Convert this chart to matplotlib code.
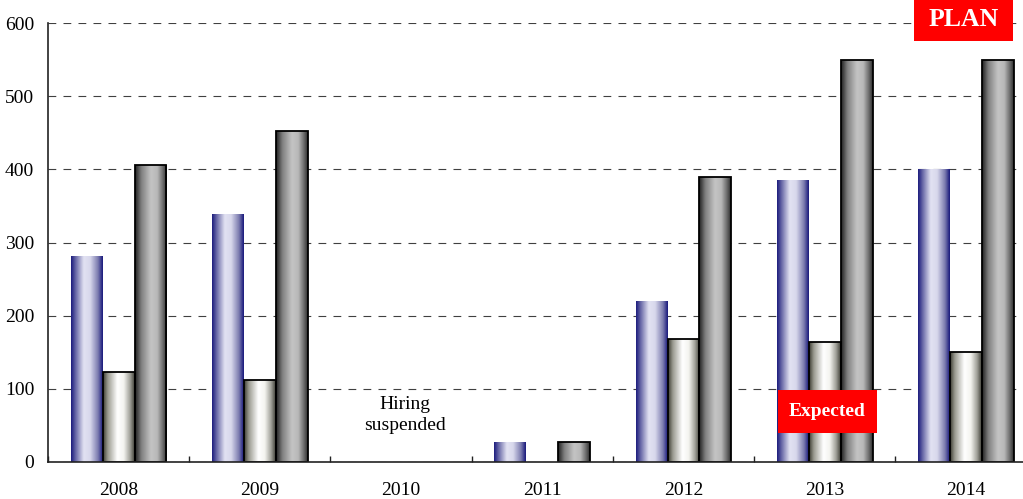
import numpy as np
import matplotlib
matplotlib.use("Agg")
import matplotlib.pyplot as plt
from matplotlib.colors import LinearSegmentedColormap
from matplotlib.patches import Rectangle

# ---- data ----
years = ["2008", "2009", "2010", "2011", "2012", "2013", "2014"]
series_a = [282, 339, 0, 27, 220, 385, 400]   # blue bars
series_b = [123, 112, 0, 0, 168, 164, 150]    # white bars
series_c = [406, 452, 0, 27, 390, 550, 550]   # gray bars
yticks = [0, 100, 200, 300, 400, 500, 600]

plt.rcParams['font.family'] = ['Liberation Serif', 'DejaVu Serif']

fig = plt.figure(figsize=(10.23, 4.99), dpi=100)
ax = fig.add_axes([48 / 1023, 37 / 499, 988.6 / 1023, 439 / 499])

cmap_a = LinearSegmentedColormap.from_list("a", [
    (0.0, '#1a1a7c'), (0.15, '#6a6aa8'), (0.4, '#e2e2f2'),
    (0.6, '#d8d8ec'), (0.85, '#7a7aae'), (1.0, '#16167a')])
cmap_b = LinearSegmentedColormap.from_list("b", [
    (0.0, '#3a3a30'), (0.15, '#9a9a90'), (0.45, '#ffffff'),
    (0.65, '#f4f4f0'), (0.85, '#a0a098'), (1.0, '#3c3c34')])
cmap_c = LinearSegmentedColormap.from_list("c", [
    (0.0, '#1e1e1e'), (0.2, '#808080'), (0.5, '#c4c4c4'),
    (0.7, '#b8b8b8'), (0.9, '#606060'), (1.0, '#2a2a2a')])

x = np.arange(len(years))
w = 0.226
grad = np.linspace(0, 1, 256).reshape(1, -1)

def draw(values, offset, cmap, edge):
    vals = np.array(values, dtype=float)
    keep = vals > 0
    bars = ax.bar(x[keep] + offset, vals[keep], width=w, facecolor='none',
                  edgecolor=edge, linewidth=1.3 if edge != 'none' else 0,
                  zorder=3)
    for b in bars:
        x0, y0 = b.get_x(), b.get_y()
        im = ax.imshow(grad, extent=[x0, x0 + b.get_width(), y0, y0 + b.get_height()],
                       aspect='auto', cmap=cmap, interpolation='bicubic', zorder=2.5)
        im.set_clip_path(b)

draw(series_a, -w, cmap_a, 'none')
draw(series_b, 0.0, cmap_b, 'black')
draw(series_c, w, cmap_c, 'black')

ax.set_xlim(-0.5, 6.5)
ax.set_ylim(0, 600)
ax.set_yticks(yticks)
ax.set_xticks(x)
ax.set_xticklabels(years)
ax.set_xticks(np.arange(-0.5, 7, 1.0), minor=True)
ax.tick_params(axis='x', which='major', length=0, labelsize=14, pad=14.5)
ax.tick_params(axis='x', which='minor', direction='in', length=4, width=1, color='#222222')
ax.tick_params(axis='y', length=0, labelsize=14, pad=10)

ax.set_axisbelow(True)
ax.yaxis.grid(True, color='#404040', linestyle=(0, (7, 6.5)), linewidth=0.8)
for s in ['top', 'right']:
    ax.spines[s].set_visible(False)
for s in ['left', 'bottom']:
    ax.spines[s].set_linewidth(1.2)
    ax.spines[s].set_color('#222222')
    ax.spines[s].set_zorder(4)

ax.text(2.03, 64, "Hiring\nsuspended", ha='center', va='center', fontsize=14,
        linespacing=1.3)

# red labels
fig.patches.append(Rectangle((778 / 1023, 1 - 433 / 499), 99 / 1023, 43 / 499,
                             transform=fig.transFigure, facecolor='#ff0000',
                             edgecolor='none', zorder=5))
fig.text(827.5 / 1023, 1 - 411.5 / 499, "Expected", color='white', fontsize=14,
         fontweight='bold', ha='center', va='center', zorder=6)
fig.patches.append(Rectangle((914 / 1023, 1 - 41 / 499), 99 / 1023, 41 / 499,
                             transform=fig.transFigure, facecolor='#ff0000',
                             edgecolor='none', zorder=5))
fig.text(963.5 / 1023, 1 - 19.5 / 499, "PLAN", color='white', fontsize=18.5,
         fontweight='bold', ha='center', va='center', zorder=6)

fig.savefig("out.png", dpi=100)
